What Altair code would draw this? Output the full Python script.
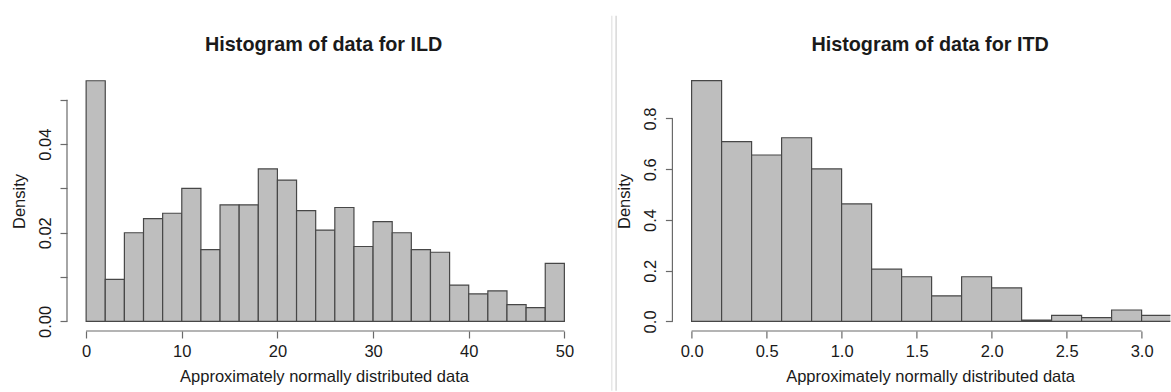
import altair as alt
import pandas as pd

# ILD histogram: bins of width 2 from 0 to 50, density per bin
ild_edges = [0, 2, 4, 6, 8, 10, 12, 14, 16, 18, 20, 22, 24, 26, 28, 30,
             32, 34, 36, 38, 40, 42, 44, 46, 48, 50]
ild_density = [0.0543, 0.0095, 0.0200, 0.0232, 0.0244, 0.0300, 0.0162,
               0.0263, 0.0263, 0.0344, 0.0319, 0.0250, 0.0206, 0.0257,
               0.0169, 0.0225, 0.0200, 0.0162, 0.0156, 0.0082, 0.0062,
               0.0069, 0.0038, 0.0031, 0.0131]

# ITD histogram: bins of width 0.2 from 0 to 3.2
itd_edges = [0.0, 0.2, 0.4, 0.6, 0.8, 1.0, 1.2, 1.4, 1.6, 1.8, 2.0, 2.2,
             2.4, 2.6, 2.8, 3.0, 3.2]
itd_density = [0.949, 0.709, 0.656, 0.724, 0.601, 0.463, 0.206, 0.176,
               0.101, 0.176, 0.132, 0.005, 0.024, 0.015, 0.045, 0.024]

ild_xticks = [0, 10, 20, 30, 40, 50]
ild_yticks = [0.0, 0.01, 0.02, 0.03, 0.04, 0.05]
itd_xticks = [0.0, 0.5, 1.0, 1.5, 2.0, 2.5, 3.0]
itd_yticks = [0.0, 0.2, 0.4, 0.6, 0.8]

titles = ["Histogram of data for ILD", "Histogram of data for ITD"]
x_title = "Approximately normally distributed data"
y_title = "Density"

FONT = "Liberation Sans"
TXT = "#1a1a1a"
AX = "#6a6a6a"
FILL = "#bebebe"
EDGE = "#474747"
H = 260
FS = 16.5


def panel(edges, dens, xdom, ydom, xticks, yticks, xfmt, ylabels, width,
          title, title_x, xtitle_x, extra=None):
    bins = pd.DataFrame({"lo": edges[:-1], "hi": edges[1:], "density": dens})
    xs = alt.Scale(domain=xdom, nice=False, zero=False)
    ys = alt.Scale(domain=ydom, nice=False, zero=False)
    common = dict(domain=False, grid=False, tickSize=7, tickColor=AX,
                  tickWidth=1.2, labelFont=FONT, labelFontSize=FS,
                  labelColor=TXT, labelFlush=False, labelOverlap=False,
                  titleFont=FONT, titleFontSize=FS, titleFontWeight="normal",
                  titleColor=TXT, titleBaseline="alphabetic",
                  titleAlign="center")
    xaxis = alt.Axis(values=xticks, format=xfmt, labelBaseline="alphabetic",
                     labelPadding=18.4, title=x_title, titleX=xtitle_x,
                     titleY=50.7, **common)
    yaxis = alt.Axis(values=yticks, labelExpr=ylabels, labelAngle=270,
                     labelAlign="center", labelBaseline="alphabetic",
                     labelPadding=9.9, title=y_title, titleAngle=270,
                     titleX=-42.9, titleY=H / 2, **common)

    bars = alt.Chart(bins).mark_rect(
        fill=FILL, stroke=EDGE, strokeWidth=1.2, clip=True
    ).encode(
        x=alt.X("lo:Q", scale=xs, axis=xaxis),
        x2="hi:Q",
        y=alt.Y("density:Q", scale=ys, axis=yaxis),
        y2=alt.datum(0),
    )

    # R-style axis lines spanning only the first to the last tick
    xline = alt.Chart(pd.DataFrame({"a": [xticks[0]], "b": [xticks[-1]]})).mark_rule(
        color=AX, strokeWidth=1.2
    ).encode(x=alt.X("a:Q", title=x_title), x2="b:Q", y=alt.value(H))
    yline = alt.Chart(pd.DataFrame({"a": [yticks[0]], "b": [yticks[-1]]})).mark_rule(
        color=AX, strokeWidth=1.2
    ).encode(x=alt.value(0), y=alt.Y("a:Q", title=y_title), y2="b:Q")

    head = alt.Chart(pd.DataFrame({"t": [title]})).mark_text(
        font=FONT, fontSize=19.8, fontWeight="bold", color=TXT,
        align="center", baseline="alphabetic"
    ).encode(text="t:N", x=alt.value(title_x), y=alt.value(-20.2))

    layers = [bars, xline, yline, head] + (extra or [])
    return alt.layer(*layers).properties(width=width, height=H)


one = pd.DataFrame({"k": [0]})
# thin separators between the two panels, plus a blank left anchor
separators = [
    alt.Chart(one).mark_rule(color="#e4e4e4", strokeWidth=1.3).encode(
        x=alt.value(544.8), y=alt.value(-55.2), y2=alt.value(319.8)),
    alt.Chart(one).mark_rule(color="#d2d2d2", strokeWidth=1.3).encode(
        x=alt.value(549.1), y=alt.value(-55.2), y2=alt.value(319.8)),
    alt.Chart(one).mark_rule(color="white", strokeWidth=1).encode(
        x=alt.value(-66.4), y=alt.value(0), y2=alt.value(1)),
]

left = panel(
    ild_edges, ild_density, [-2, 52], [-0.002165, 0.0565],
    ild_xticks, ild_yticks, "d",
    "round(datum.value * 100) % 2 == 0 ? format(datum.value, '.2f') : ''",
    516.5, titles[0], 256.7, 257.0, separators,
)
right = panel(
    itd_edges, itd_density, [-0.128, 3.192], [-0.0378, 0.9872],
    itd_xticks, itd_yticks, ".1f", "format(datum.value, '.1f')",
    498, titles[1], 257.7, 257.7,
)

chart = alt.hconcat(left, right, spacing=88.4, bounds="flush").properties(
    padding={"left": 0, "top": 15, "right": 0, "bottom": 0}
).configure_view(strokeWidth=0)

chart.save("out.html", embed_options={"renderer": "svg", "actions": False})
